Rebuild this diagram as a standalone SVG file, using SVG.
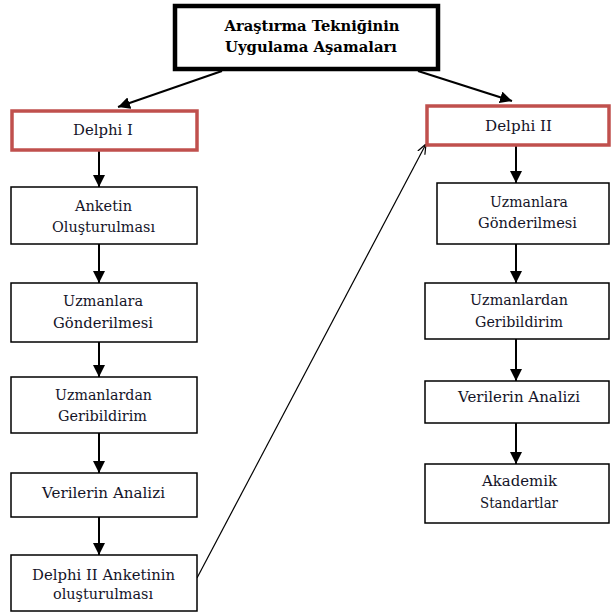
<svg xmlns="http://www.w3.org/2000/svg" width="611" height="616" viewBox="0 0 611 616">
<defs>
<marker id="ah" viewBox="0 0 10 10" refX="10" refY="5" markerWidth="12" markerHeight="12" markerUnits="userSpaceOnUse" orient="auto">
<path d="M0,0 L10,5 L0,10 z" fill="#000"/>
</marker>
<marker id="ahs" viewBox="0 0 10 10" refX="10" refY="5" markerWidth="10" markerHeight="10" markerUnits="userSpaceOnUse" orient="auto">
<path d="M0,1 L10,5 L0,9" fill="none" stroke="#000" stroke-width="1.2"/>
</marker>
</defs>
<style>
text{font-family:"DejaVu Serif","Liberation Serif",serif;font-size:15px;fill:#141428;text-anchor:middle}
.t{font-weight:bold;fill:#000}
.box{fill:#fff;stroke:#000;stroke-width:1.5}
.red{fill:#fff;stroke:#c0504d;stroke-width:3.5}
.top{fill:#fff;stroke:#000;stroke-width:4.5}
.c{stroke:#000;stroke-width:2;fill:none;marker-end:url(#ah)}
.d{stroke:#000;stroke-width:1.2;fill:none;marker-end:url(#ahs)}
</style>
<rect width="611" height="616" fill="#fff"/>
<g id="connectors">
<line class="c" x1="222" y1="71" x2="118" y2="107"/>
<line class="c" x1="418" y1="71" x2="512" y2="101"/>
<line class="c" x1="99" y1="150" x2="99" y2="187"/>
<line class="c" x1="99" y1="244" x2="99" y2="283"/>
<line class="c" x1="99" y1="342" x2="99" y2="377"/>
<line class="c" x1="99" y1="433" x2="99" y2="473"/>
<line class="c" x1="99" y1="517" x2="99" y2="555"/>
<line class="d" x1="197" y1="578" x2="426" y2="144"/>
<line class="c" x1="516" y1="145" x2="516" y2="183"/>
<line class="c" x1="516" y1="244" x2="516" y2="283"/>
<line class="c" x1="516" y1="339" x2="516" y2="381"/>
<line class="c" x1="516" y1="423" x2="516" y2="464"/>
</g>
<g id="title">
<rect class="top" x="175" y="6" width="263" height="63"/>
<text class="t" x="312" y="31" textLength="175" lengthAdjust="spacingAndGlyphs">Araştırma Tekniğinin</text>
<text class="t" x="311" y="52" textLength="172" lengthAdjust="spacingAndGlyphs">Uygulama Aşamaları</text>
</g>
<g id="delphi1">
<rect class="red" x="12" y="111" width="185" height="39"/>
<text x="103" y="135" textLength="60" lengthAdjust="spacingAndGlyphs">Delphi I</text>
</g>
<g id="anketin">
<rect class="box" x="11" y="187" width="186" height="57"/>
<text x="103.5" y="211" textLength="57" lengthAdjust="spacingAndGlyphs">Anketin</text>
<text x="103.5" y="232" textLength="103" lengthAdjust="spacingAndGlyphs">Oluşturulması</text>
</g>
<g id="uzmanlara1">
<rect class="box" x="11" y="283" width="186" height="59"/>
<text x="103" y="306" textLength="80" lengthAdjust="spacingAndGlyphs">Uzmanlara</text>
<text x="103" y="328" textLength="100" lengthAdjust="spacingAndGlyphs">Gönderilmesi</text>
</g>
<g id="geri1">
<rect class="box" x="11" y="377" width="186" height="56"/>
<text x="103.5" y="400" textLength="97" lengthAdjust="spacingAndGlyphs">Uzmanlardan</text>
<text x="102.5" y="421" textLength="89" lengthAdjust="spacingAndGlyphs">Geribildirim</text>
</g>
<g id="analiz1">
<rect class="box" x="11" y="473" width="186" height="44"/>
<text x="103.5" y="498" textLength="123" lengthAdjust="spacingAndGlyphs">Verilerin Analizi</text>
</g>
<g id="anket2">
<rect class="box" x="11" y="555" width="186" height="56"/>
<text x="103.5" y="580" textLength="143" lengthAdjust="spacingAndGlyphs">Delphi II Anketinin</text>
<text x="103" y="599" textLength="100" lengthAdjust="spacingAndGlyphs">oluşturulması</text>
</g>
<g id="delphi2">
<rect class="red" x="427" y="106" width="182" height="39"/>
<text x="518.5" y="131" textLength="67" lengthAdjust="spacingAndGlyphs">Delphi II</text>
</g>
<g id="uzmanlara2">
<rect class="box" x="437" y="183" width="172" height="61"/>
<text x="529" y="207" textLength="78" lengthAdjust="spacingAndGlyphs">Uzmanlara</text>
<text x="527.5" y="228" textLength="99" lengthAdjust="spacingAndGlyphs">Gönderilmesi</text>
</g>
<g id="geri2">
<rect class="box" x="425" y="283" width="184" height="56"/>
<text x="519" y="305" textLength="98" lengthAdjust="spacingAndGlyphs">Uzmanlardan</text>
<text x="519" y="327" textLength="88" lengthAdjust="spacingAndGlyphs">Geribildirim</text>
</g>
<g id="analiz2">
<rect class="box" x="425" y="381" width="184" height="42"/>
<text x="519" y="402" textLength="122" lengthAdjust="spacingAndGlyphs">Verilerin Analizi</text>
</g>
<g id="akademik">
<rect class="box" x="425" y="464" width="184" height="59"/>
<text x="519.5" y="486" textLength="75" lengthAdjust="spacingAndGlyphs">Akademik</text>
<text x="519" y="508" textLength="78" lengthAdjust="spacingAndGlyphs">Standartlar</text>
</g>
</svg>
